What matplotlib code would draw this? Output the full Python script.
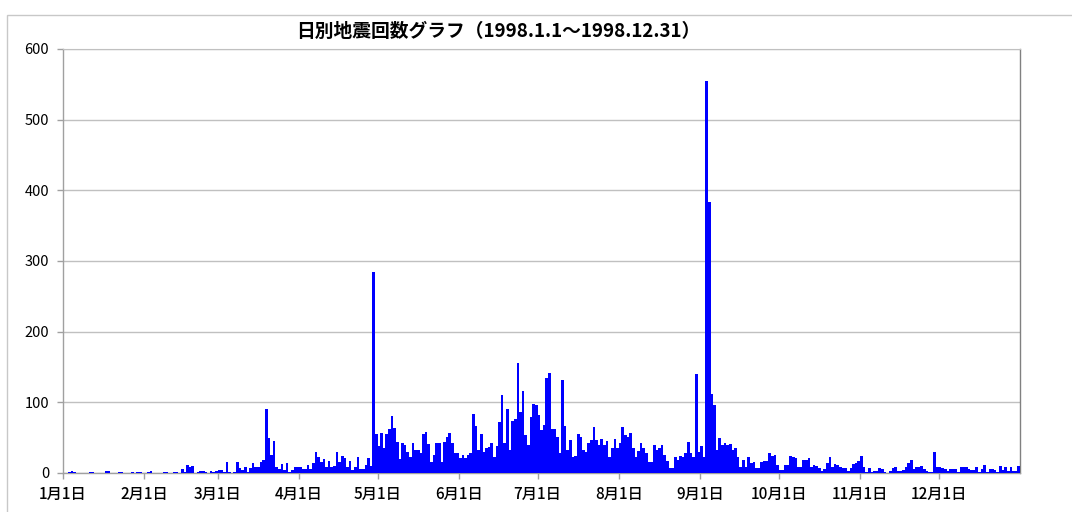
import matplotlib
matplotlib.use("Agg")
import matplotlib.pyplot as plt
import numpy as np

plt.rcParams['font.family'] = ['Noto Sans CJK JP', 'DejaVu Sans']

title = "日別地震回数グラフ（1998.1.1～1998.12.31）"
month_labels = ["1月1日", "2月1日", "3月1日", "4月1日", "5月1日", "6月1日",
                "7月1日", "8月1日", "9月1日", "10月1日", "11月1日", "12月1日"]

jan = [0,0,1,3,1,0,0,0,0,0,1,2,0,0,0,0,3,3,0,0,0,1,1,0,0,0,1,0,1,1,0]
feb = [0,1,3,0,0,0,0,1,2,0,0,1,1,0,5,1,11,8,10,0,1,3,3,2,0,3,1,3]
mar = [4,4,2,15,1,0,1,15,7,4,8,1,7,14,9,8,16,18,90,50,25,45,8,6,13,4,14,1,4,8,9]
apr = [9,5,5,11,5,14,30,23,16,20,9,17,8,10,30,16,24,21,8,17,4,8,22,5,6,11,21,10,284,55]
may = [38,57,35,55,62,80,63,44,20,43,40,30,22,43,33,33,28,55,58,41,15,26,43,42,15,44,51,57,43,28,28]
jun = [21,25,21,26,28,84,67,32,55,30,36,37,42,23,38,72,110,43,90,33,74,76,156,87,116,54,39,79,98,96]
jul = [82,61,68,135,142,62,62,51,29,132,67,33,47,23,24,55,51,33,30,43,46,65,47,40,48,40,45,23,35,48,36]
aug = [43,65,54,51,56,35,22,31,42,36,28,15,16,40,32,35,40,25,17,7,7,22,18,24,23,29,44,29,23,140,30]
sep = [38,23,555,383,112,96,33,50,40,42,40,41,33,35,22,9,18,9,22,14,15,7,7,15,17,17,28,24,25,11]
oct_ = [4,4,11,11,24,23,21,9,8,18,19,21,9,12,10,7,3,5,14,22,9,13,11,9,7,7,3,7,13,14,17]
nov = [24,8,2,7,2,3,3,7,5,2,0,3,7,9,3,3,4,8,14,19,5,8,8,10,5,3,2,1,30,8]
dec = [8,7,5,3,6,6,6,2,8,8,9,5,4,4,8,2,5,11,2,5,5,4,2,10,4,8,3,8,3,3,10]

months = [jan, feb, mar, apr, may, jun, jul, aug, sep, oct_, nov, dec]
counts = np.concatenate([np.array(m, dtype=float) for m in months])
month_starts = np.cumsum([0] + [len(m) for m in months[:-1]])
ndays = len(counts)

fig = plt.figure(figsize=(10.72, 5.12), dpi=100)
ax = fig.add_axes([63/1072, 1-473/512, (1020-63)/1072, (473-49)/512])

x = np.arange(ndays) + 0.5
ax.bar(x, counts, width=1.0, color='#0000FF', linewidth=0, zorder=3)

ax.set_xlim(0, ndays)
ax.set_ylim(0, 600)
ax.set_yticks(np.arange(0, 601, 100))
ax.set_xticks(month_starts)
ax.set_xticklabels(month_labels)
ax.yaxis.grid(True, color='#C0C0C0', linewidth=1.0, zorder=0)
ax.xaxis.grid(False)

for s in ['left', 'bottom']:
    ax.spines[s].set_color('#A0A0A0')
    ax.spines[s].set_linewidth(1.0)
ax.spines['top'].set_color('#C0C0C0')
ax.spines['right'].set_color('#808080')
ax.spines['right'].set_linewidth(1.0)

ax.tick_params(axis='y', length=4, width=1, color='#A0A0A0', pad=6, labelsize=10.5)
ax.tick_params(axis='x', length=4, width=1, color='#A0A0A0', pad=5, labelsize=11)
for lbl in ax.get_xticklabels():
    lbl.set_fontweight('medium')

fig.text(498/1072, 1-31/512, title, ha='center', va='center', fontsize=13.5, fontweight='bold')

# chart area frame
frame_top = 1 - 15/512
fig.patches.append(plt.Rectangle((7/1072, -0.1), 1.2, frame_top + 0.1, transform=fig.transFigure,
                                 fill=False, edgecolor='#C8C8C8', linewidth=1.0))

fig.savefig('out.png', dpi=100)
